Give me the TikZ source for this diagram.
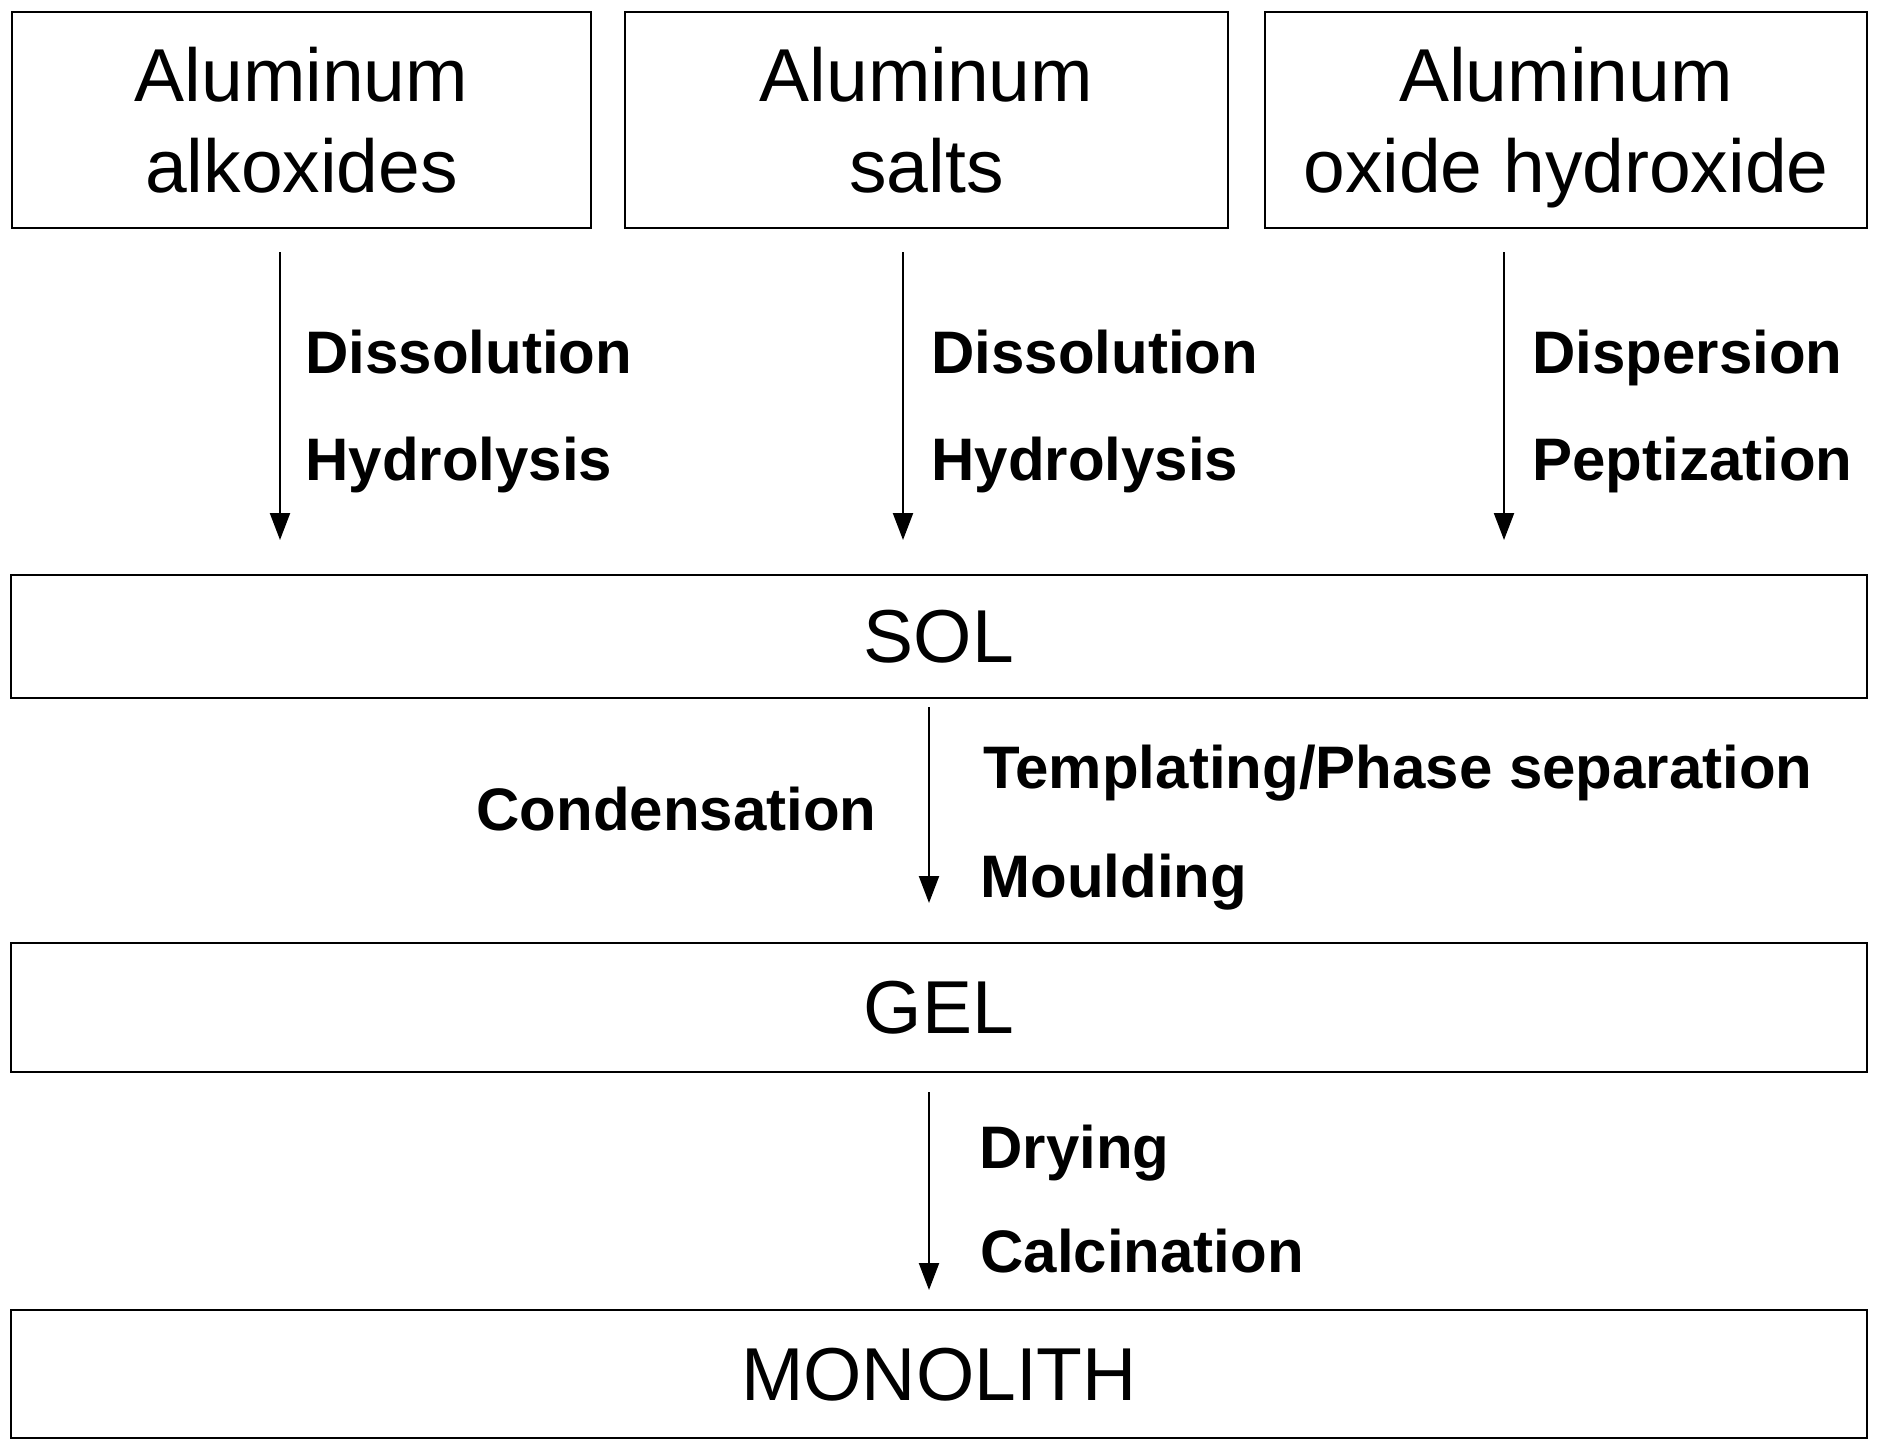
\documentclass[tikz,border=0pt]{standalone}
\usepackage{fontspec}
\setmainfont{Liberation Sans}
\usetikzlibrary{arrows.meta}
\begin{document}
\begin{tikzpicture}[x=0.5pt,y=-0.5pt,
  box/.style={draw,line width=1.25pt,inner sep=0pt,text depth=0pt,align=center,
    font=\fontsize{37.5}{45.5}\selectfont},
  lbl/.style={anchor=base west,inner sep=0pt,font=\fontsize{30}{36}\selectfont\bfseries},
  arr/.style={line width=1.1pt,-{Triangle[length=13.5pt,width=10pt]}}]
\fill[white] (0,0) rectangle (1879,1450);
\useasboundingbox (0,0) rectangle (1879,1450);
% boxes
\node[box,minimum width=289.5pt,minimum height=108pt] (b1) at (301.5,120) {Aluminum\\alkoxides};
\node[box,minimum width=301.5pt,minimum height=108pt] (b2) at (926.5,120) {Aluminum\\salts};
\node[box,minimum width=301pt,minimum height=108pt] (b3) at (1566,120) {Aluminum\\oxide hydroxide};
\node[box,minimum width=928pt,minimum height=61.5pt] (sol) at (939,636.5) {SOL};
\node[box,minimum width=928pt,minimum height=64.5pt] (gel) at (939,1007.5) {GEL};
\node[box,minimum width=928pt,minimum height=64pt] (mono) at (939,1374) {MONOLITH};
% arrow end points
\coordinate (a1s) at (280,252);  \coordinate (a1e) at (280,540);
\coordinate (a2s) at (903,252);  \coordinate (a2e) at (903,540);
\coordinate (a3s) at (1504,252); \coordinate (a3e) at (1504,540);
\coordinate (a4s) at (929,707);  \coordinate (a4e) at (929,903);
\coordinate (a5s) at (929,1092); \coordinate (a5e) at (929,1290);
\draw[arr] (a1s) -- (a1e);
\draw[arr] (a2s) -- (a2e);
\draw[arr] (a3s) -- (a3e);
\draw[arr] (a4s) -- (a4e);
\draw[arr] (a5s) -- (a5e);
% labels
\node[lbl] (l1a) at (305,373) {Dissolution};
\node[lbl] (l1b) at (305,480) {Hydrolysis};
\node[lbl] (l2a) at (931,373) {Dissolution};
\node[lbl] (l2b) at (931,480) {Hydrolysis};
\node[lbl] (l3a) at (1532,373) {Dispersion};
\node[lbl] (l3b) at (1532,480) {Peptization};
\node[lbl] (l4a) at (476,830) {Condensation};
\node[lbl] (l4b) at (983,788) {Templating/Phase separation};
\node[lbl] (l4c) at (980,897) {Moulding};
\node[lbl] (l5a) at (979,1168) {Drying};
\node[lbl] (l5b) at (980,1272) {Calcination};
\end{tikzpicture}
\end{document}
